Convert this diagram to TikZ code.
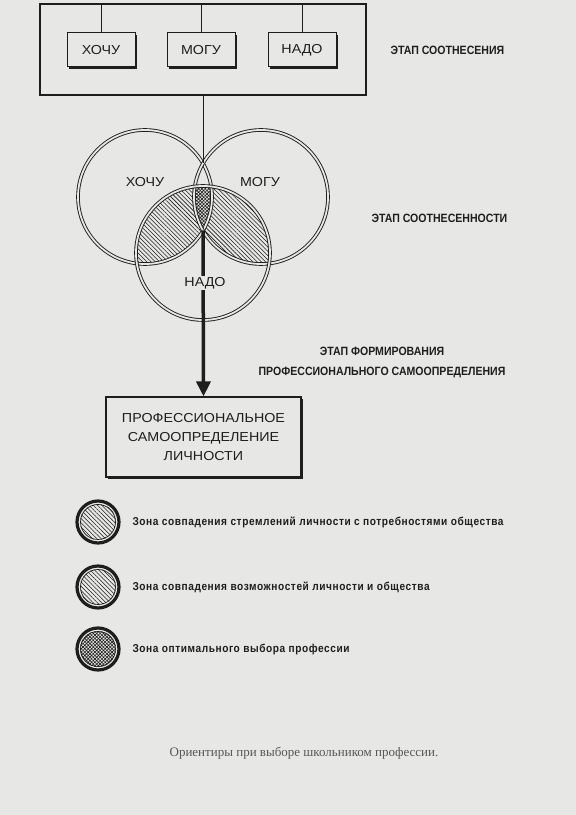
\documentclass[tikz,border=0pt]{standalone}
\usepackage{fontspec}
\setmainfont{Liberation Serif}
\newfontfamily\wideFont[FakeStretch=1.1]{Liberation Sans}
\newfontfamily\narrowFont[FakeStretch=0.88]{Liberation Sans}
\newfontfamily\zoneFont[FakeStretch=0.88,LetterSpace=5]{Liberation Sans}
\usepackage{xcolor}
\usepackage{tikz}
\usetikzlibrary{positioning,calc,arrows.meta,shadows,patterns.meta}
\definecolor{paper}{RGB}{231,231,229}
\definecolor{ink}{RGB}{30,30,30}
\tikzstyle{line} = [draw=ink,line width=1pt]
\tikzstyle{item} = [draw=ink,line width=1pt,fill=paper,minimum width=68pt,minimum height=34pt,font=\wideFont\fontsize{13}{15}\selectfont,text=ink,drop shadow={shadow xshift=1.8pt,shadow yshift=-1.8pt,fill=ink,opacity=1}]
\tikzstyle{stage} = [font=\narrowFont\bfseries\fontsize{12}{20}\selectfont,text=ink]
\tikzstyle{ring} = [draw=ink,line width=0.9pt,double=paper,double distance=1.8pt]
\tikzstyle{hatch} = [pattern={Lines[angle=-45,distance=3pt,line width=0.55pt]},pattern color=ink]
\tikzstyle{dots} = [pattern={Hatch[angle=45,distance=2.4pt,line width=0.6pt]},pattern color=ink]
\tikzstyle{zone} = [anchor=west,font=\zoneFont\bfseries\fontsize{11.5}{13}\selectfont,text=ink]

\begin{document}
\begin{tikzpicture}[x=1pt,y=1pt]
  \useasboundingbox[fill=paper] (0,0) rectangle (576,815);
  % step 1
  \node[draw=ink,line width=1.1pt,minimum width=326pt,minimum height=91pt] (frame) at (203,765.5) {};
  \node[item] (want) at (101,765) {ХОЧУ};
  \node[item] (can) at (201,765) {МОГУ};
  \node[item] (must) at (302,765) {НАДО};
  \foreach \n in {want,can,must}
    \path [line] (\n.north) -- (\n.north |- frame.north);
  \node[stage,anchor=west] (st1) at (387,765) {ЭТАП СООТНЕСЕНИЯ};

  % step 2
  \coordinate (cw) at (145,618);
  \coordinate (cc) at (261,618);
  \coordinate (cm) at (203,562);
  \coordinate (up) at (203,651.5);
  \coordinate (low) at (203,584.5);
  \begin{scope}
    \clip (cm) circle (67);
    \fill[hatch] (cw) circle (67);
    \fill[hatch] (cc) circle (67);
  \end{scope}
  \begin{scope}
    \clip (cm) circle (67);
    \clip (cw) circle (67);
    \clip (cc) circle (67);
    \fill[paper] (150,550) rectangle (260,660);
    \fill[dots] (150,550) rectangle (260,660);
  \end{scope}
  \foreach \c in {cw,cc,cm}
    \draw[ring] (\c) circle (67);
  \path [line] (frame.south) -- (up);
  \node[stage,anchor=west] (st2) at (368,597) {ЭТАП СООТНЕСЕННОСТИ};

  % step 3
  \node[draw=ink,line width=1.1pt,fill=paper,minimum width=195pt,minimum height=80pt,align=center,
        font=\wideFont\fontsize{13}{19}\selectfont,text=ink,
        drop shadow={shadow xshift=2.2pt,shadow yshift=-2.2pt,fill=ink,opacity=1}] (result) at (203.5,378)
        {ПРОФЕССИОНАЛЬНОЕ\\САМООПРЕДЕЛЕНИЕ\\ЛИЧНОСТИ};
  \draw[ink,line width=3.5pt,-{Triangle[length=15pt,width=14pt]}] (low) -- (result.north);
  \node[font=\wideFont\fontsize{13}{15}\selectfont,text=ink] (lw) at (145,633) {ХОЧУ};
  \node[font=\wideFont\fontsize{13}{15}\selectfont,text=ink] (lc) at (260,633) {МОГУ};
  \node[font=\wideFont\fontsize{13}{15}\selectfont,text=ink,fill=paper,inner sep=1pt] (lm) at (205,532) {НАДО};
  \node[stage,align=center] (st3) at (382,452) {ЭТАП ФОРМИРОВАНИЯ\\ПРОФЕССИОНАЛЬНОГО САМООПРЕДЕЛЕНИЯ};

  % legend
  \foreach \y/\p/\t [count=\i] in {293/hatch/Зона совпадения стремлений личности с потребностями общества,
                                   228/hatch/Зона совпадения возможностей личности и общества,
                                   166/dots/Зона оптимального выбора профессии} {
    \fill[\p] (98,\y) circle (18);
    \draw[ink,line width=3.2pt] (98,\y) circle (21);
    \draw[ink,line width=0.7pt] (98,\y) circle (17.5);
    \node[zone] (zone\i) at (129,\y) {\t};
  }
  \node[font=\fontsize{13}{15}\selectfont,text=ink!75] (caption) at (304,62) {Ориентиры при выборе школьником профессии.};
\end{tikzpicture}
\end{document}
